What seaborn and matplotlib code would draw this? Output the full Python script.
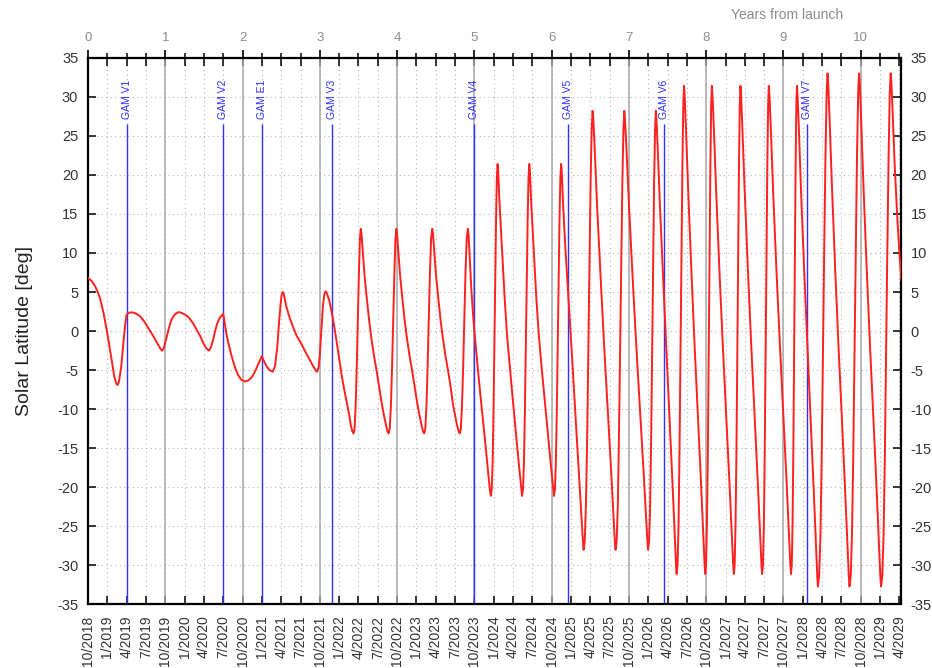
import numpy as np
import pandas as pd
import matplotlib
matplotlib.use("Agg")
from matplotlib import pyplot as plt
import seaborn as sns

# --- data (x in years from launch, y in deg) ---

# launch -> GAM V3
cruise_years = [
    0.00, 0.05, 0.10, 0.15, 0.20, 0.25, 0.30, 0.34, 0.37, 0.385, 0.40, 0.43, 0.46, 0.48, 0.50,
    0.53, 0.57, 0.62, 0.675, 0.73, 0.78, 0.83, 0.87, 0.91, 0.94, 0.96, 0.98, 1.02, 1.05, 1.08,
    1.12, 1.16, 1.19, 1.24, 1.30, 1.36, 1.405, 1.45, 1.49, 1.53, 1.565, 1.59, 1.62, 1.64, 1.67,
    1.705, 1.75,
    1.77, 1.79, 1.82, 1.86, 1.90, 1.94, 1.98, 2.03, 2.08, 2.12, 2.16, 2.20, 2.25,
    2.28, 2.31, 2.35, 2.39, 2.42, 2.45, 2.47, 2.49, 2.505, 2.52, 2.535, 2.565, 2.61, 2.65, 2.70,
    2.76, 2.81, 2.87, 2.92, 2.95, 2.965, 2.985, 3.00, 3.02, 3.04, 3.06, 3.075, 3.09, 3.12, 3.156,
]
cruise_lat = [
    6.8, 6.4, 5.6, 4.4, 2.4, -0.3, -3.3, -5.8, -6.8, -6.9, -6.5, -4.6, -1.3, 0.7, 2.1,
    2.35, 2.4, 2.25, 1.9, 1.2, 0.4, -0.4, -1.1, -1.8, -2.3, -2.5, -2.2, -0.7, 0.5, 1.45,
    2.1, 2.4, 2.4, 2.2, 1.8, 1.0, 0.2, -0.6, -1.5, -2.2, -2.5, -2.1, -1.1, -0.2, 0.9,
    1.7, 2.2,
    1.0, -0.3, -1.7, -3.25, -4.6, -5.6, -6.2, -6.45, -6.3, -5.9, -5.2, -4.3, -3.2,
    -3.9, -4.5, -5.0, -5.2, -4.5, -2.0, 0.8, 3.2, 4.6, 5.0, 4.7, 3.2, 1.7, 0.6, -0.6,
    -1.6, -2.6, -3.7, -4.6, -5.1, -5.2, -4.6, -3.0, 0.0, 3.2, 4.8, 5.1, 4.9, 4.0, 2.3,
]

# GAM V3 -> GAM V4
v3_years = [
    3.19, 3.22, 3.25, 3.285, 3.32, 3.35, 3.38, 3.40, 3.42, 3.436,
    3.45, 3.464, 3.478, 3.492, 3.506, 3.519, 3.53,
    3.54, 3.557, 3.58, 3.61, 3.64, 3.67, 3.70, 3.74, 3.77, 3.80, 3.83, 3.86, 3.875, 3.89,
    3.905, 3.92, 3.935, 3.95, 3.965, 3.978, 3.99,
    4.00, 4.017, 4.04, 4.07, 4.10, 4.13, 4.16, 4.20, 4.23, 4.26, 4.29, 4.32, 4.335, 4.35,
    4.365, 4.38, 4.395, 4.41, 4.425, 4.44, 4.455,
    4.465, 4.482, 4.505, 4.535, 4.565, 4.595, 4.625, 4.665, 4.695, 4.72, 4.75, 4.775, 4.795, 4.81,
    4.825, 4.84, 4.855, 4.87, 4.885, 4.90, 4.915,
    4.925, 4.94, 4.96, 4.98, 5.00,
]
v3_lat = [
    0.4, -1.5, -3.5, -5.8, -7.7, -9.2, -10.7, -12.0, -12.8, -13.1,
    -12.5, -9.5, -4.5, 1.5, 7.5, 11.8, 13.1,
    12.4, 10.0, 7.0, 4.0, 1.2, -1.1, -3.1, -5.4, -7.3, -9.2, -10.8, -12.2, -12.8, -13.1,
    -12.5, -9.5, -4.5, 1.5, 7.5, 11.8, 13.1,
    12.4, 10.0, 7.0, 4.0, 1.2, -1.1, -3.1, -5.4, -7.3, -9.2, -10.8, -12.2, -12.8, -13.1,
    -12.5, -9.5, -4.5, 1.5, 7.5, 11.8, 13.1,
    12.4, 10.0, 7.0, 4.0, 1.2, -1.1, -3.1, -5.4, -7.3, -9.2, -10.8, -12.0, -12.8, -13.1,
    -12.5, -9.5, -4.5, 1.5, 7.5, 11.8, 13.1,
    12.3, 9.5, 5.5, 2.5, 0.0,
]

# GAM V4 -> GAM V5
v4_years = [
    5.04, 5.075, 5.11, 5.148, 5.175, 5.195, 5.205, 5.213,
    5.224, 5.236, 5.247, 5.258, 5.27, 5.281, 5.291, 5.30,
    5.308, 5.325, 5.357, 5.39, 5.422, 5.455, 5.487, 5.52, 5.552, 5.575, 5.596, 5.61, 5.617,
    5.629, 5.641, 5.653, 5.665, 5.677, 5.69, 5.701, 5.71,
    5.718, 5.735, 5.767, 5.80, 5.833, 5.866, 5.899, 5.932, 5.964, 5.988, 6.009, 6.023, 6.03,
    6.042, 6.054, 6.066, 6.078, 6.09, 6.102, 6.113, 6.122,
    6.13, 6.147, 6.175, 6.203, 6.217,
]
v4_lat = [
    -4.3, -7.9, -11.3, -15.0, -17.8, -19.8, -20.7, -21.1,
    -20.3, -16.9, -10.6, -2.1, 6.4, 14.6, 19.7, 21.4,
    20.6, 16.5, 10.5, 4.5, -0.45, -4.2, -7.7, -11.2, -14.5, -17.0, -19.1, -20.6, -21.1,
    -20.3, -16.9, -10.6, -2.1, 6.4, 14.6, 19.7, 21.4,
    20.6, 16.5, 10.5, 4.5, -0.45, -4.2, -7.7, -11.2, -14.5, -17.0, -19.1, -20.6, -21.1,
    -20.3, -16.9, -10.6, -2.1, 6.4, 14.6, 19.7, 21.4,
    20.6, 16.5, 11.0, 6.5, 4.3,
]

# GAM V5 -> GAM V6
v5_years = [
    6.234, 6.265, 6.294, 6.323, 6.353, 6.375, 6.393, 6.407, 6.413,
    6.428, 6.443, 6.459, 6.474, 6.489, 6.504, 6.518, 6.53,
    6.539, 6.554, 6.589, 6.634, 6.678, 6.722, 6.767, 6.802, 6.817, 6.826,
    6.841, 6.856, 6.870, 6.885, 6.900, 6.915, 6.929, 6.94,
    6.949, 6.965, 7.002, 7.048, 7.094, 7.14, 7.186, 7.223, 7.239, 7.248,
    7.261, 7.274, 7.287, 7.30, 7.313, 7.326, 7.338, 7.348,
    7.356, 7.37, 7.402, 7.442, 7.457,
]
v5_lat = [
    1.5, -3.5, -8.5, -13.3, -18.3, -22.0, -25.0, -27.3, -28.0,
    -26.9, -22.4, -14.0, -2.8, 8.5, 19.2, 25.9, 28.2,
    27.1, 24.0, 15.8, 6.8, -1.7, -9.5, -17.4, -24.1, -26.9, -28.0,
    -26.9, -22.4, -14.0, -2.8, 8.5, 19.2, 25.9, 28.2,
    27.1, 24.0, 15.8, 6.8, -1.7, -9.5, -17.4, -24.1, -26.9, -28.0,
    -26.9, -22.4, -14.0, -2.8, 8.5, 19.2, 25.9, 28.2,
    27.1, 24.0, 15.8, 6.8, 3.5,
]

# GAM V6 -> GAM V7
v6_years = [
    7.482, 7.523, 7.563, 7.595, 7.609, 7.617,
    7.629, 7.642, 7.654, 7.667, 7.679, 7.692, 7.703, 7.713,
    7.721, 7.735, 7.768, 7.809, 7.85, 7.891, 7.932, 7.965, 7.979, 7.987,
    7.998, 8.009, 8.021, 8.032, 8.043, 8.054, 8.064, 8.073,
    8.082, 8.096, 8.13, 8.172, 8.215, 8.258, 8.30, 8.334, 8.349, 8.357,
    8.368, 8.379, 8.391, 8.402, 8.413, 8.424, 8.434, 8.443,
    8.451, 8.465, 8.499, 8.541, 8.583, 8.625, 8.667, 8.701, 8.715, 8.723,
    8.734, 8.746, 8.757, 8.768, 8.78, 8.791, 8.801, 8.81,
    8.819, 8.833, 8.867, 8.91, 8.954, 8.997, 9.04, 9.074, 9.088, 9.097,
    9.107, 9.117, 9.127, 9.137, 9.147, 9.157, 9.166, 9.174,
    9.182, 9.196, 9.228, 9.269, 9.31,
]
v6_lat = [
    -1.9, -10.6, -19.3, -26.7, -29.9, -31.1,
    -29.9, -24.9, -15.6, -3.1, 9.4, 21.4, 28.9, 31.4,
    30.1, 26.7, 17.6, 7.5, -1.9, -10.6, -19.3, -26.7, -29.9, -31.1,
    -29.9, -24.9, -15.6, -3.1, 9.4, 21.4, 28.9, 31.4,
    30.1, 26.7, 17.6, 7.5, -1.9, -10.6, -19.3, -26.7, -29.9, -31.1,
    -29.9, -24.9, -15.6, -3.1, 9.4, 21.4, 28.9, 31.4,
    30.1, 26.7, 17.6, 7.5, -1.9, -10.6, -19.3, -26.7, -29.9, -31.1,
    -29.9, -24.9, -15.6, -3.1, 9.4, 21.4, 28.9, 31.4,
    30.1, 26.7, 17.6, 7.5, -1.9, -10.6, -19.3, -26.7, -29.9, -31.1,
    -29.9, -24.9, -15.6, -3.1, 9.4, 21.4, 28.9, 31.4,
    30.1, 26.7, 17.6, 7.5, -2.0,
]

# GAM V7 -> end of plot
v7_years = [
    9.35, 9.391, 9.423, 9.437, 9.445,
    9.461, 9.478, 9.494, 9.51, 9.526, 9.543, 9.558, 9.57,
    9.579, 9.593, 9.627, 9.669, 9.712, 9.755, 9.797, 9.831, 9.845, 9.854,
    9.87, 9.886, 9.902, 9.918, 9.935, 9.951, 9.966, 9.978,
    9.987, 10.001, 10.035, 10.077, 10.12, 10.163, 10.205, 10.239, 10.253, 10.262,
    10.278, 10.295, 10.311, 10.327, 10.343, 10.36, 10.375, 10.387,
    10.396, 10.41, 10.44, 10.47, 10.50, 10.525,
]
v7_lat = [
    -11.1, -20.3, -28.1, -31.4, -32.7,
    -31.4, -26.2, -16.4, -3.3, 9.9, 22.4, 30.4, 33.0,
    31.7, 28.1, 18.5, 7.9, -2.0, -11.1, -20.3, -28.1, -31.4, -32.7,
    -31.4, -26.2, -16.4, -3.3, 9.9, 22.4, 30.4, 33.0,
    31.7, 28.1, 18.5, 7.9, -2.0, -11.1, -20.3, -28.1, -31.4, -32.7,
    -31.4, -26.2, -16.4, -3.3, 9.9, 22.4, 30.4, 33.0,
    31.8, 28.5, 21.0, 15.0, 10.0, 6.5,
]

gam_names = ["GAM V1", "GAM V2", "GAM E1", "GAM V3", "GAM V4", "GAM V5", "GAM V6", "GAM V7"]
gam_years = [0.505, 1.75, 2.255, 3.156, 5.0, 6.217, 7.457, 9.31]

year_ticks = list(range(0, 11))
date_labels = [
    "10/2018",
    "1/2019", "4/2019", "7/2019", "10/2019",
    "1/2020", "4/2020", "7/2020", "10/2020",
    "1/2021", "4/2021", "7/2021", "10/2021",
    "1/2022", "4/2022", "7/2022", "10/2022",
    "1/2023", "4/2023", "7/2023", "10/2023",
    "1/2024", "4/2024", "7/2024", "10/2024",
    "1/2025", "4/2025", "7/2025", "10/2025",
    "1/2026", "4/2026", "7/2026", "10/2026",
    "1/2027", "4/2027", "7/2027", "10/2027",
    "1/2028", "4/2028", "7/2028", "10/2028",
    "1/2029", "4/2029",
]
lat_ticks = [-35, -30, -25, -20, -15, -10, -5, 0, 5, 10, 15, 20, 25, 30, 35]

track = pd.DataFrame({
    "years": cruise_years + v3_years + v4_years + v5_years + v6_years + v7_years,
    "lat": cruise_lat + v3_lat + v4_lat + v5_lat + v6_lat + v7_lat,
})
quarters = np.arange(len(date_labels)) * 0.25

sns.set_theme(style="white")
plt.rcParams["font.family"] = ["Liberation Sans", "DejaVu Sans"]
plt.rcParams["axes.unicode_minus"] = False

fig = plt.figure(figsize=(9.32, 6.68), dpi=100)
ax = fig.add_axes([0.0944, 0.0951, 0.8723, 0.8185])
top = ax.twiny()

# integer-year guide lines and gravity assist markers
ax.vlines(year_ticks[1:], -35, 35, color="#a8a8a8", lw=1.1, zorder=1)
ax.vlines(gam_years, -35, 26.5, color="#3030ff", lw=1.0, zorder=2)
for t, name in zip(gam_years, gam_names):
    ax.text(t, 27.2, name, rotation=90, ha="center", va="bottom",
            color="#3030ff", fontsize=7.5, zorder=4)

sns.lineplot(data=track, x="years", y="lat", sort=False, estimator=None,
             color="#ff2020", lw=1.4, ax=ax, zorder=3)

ax.set_xlim(0, 10.52)
ax.set_ylim(-35, 35)
ax.set_xticks(quarters)
ax.set_xticklabels(date_labels)
ax.set_yticks(lat_ticks)
ax.set_xlabel("")
ax.set_ylabel("")
ax.grid(True, linestyle=(0, (1, 3)), color="#b5b5b5", lw=0.8)
ax.set_axisbelow(True)

ax.tick_params(axis="x", direction="in", length=5.5, width=1.1, pad=8,
               labelsize=10, labelrotation=90, bottom=True, top=True,
               labelcolor="#333333", color="black")
ax.tick_params(axis="y", direction="in", length=6, width=1.1, pad=7,
               labelsize=10.5, left=True, right=True, labelleft=True,
               labelright=True, labelcolor="#333333", color="black")
for s in ax.spines.values():
    s.set_color("black")
    s.set_linewidth(1.6)

top.set_xlim(ax.get_xlim())
top.set_xticks(year_ticks)
top.set_xticks(quarters, minor=True)
top.tick_params(axis="x", which="major", direction="out", length=6, width=1.2,
                pad=4, labelsize=9.5, labelcolor="#8c8c8c", color="black")
top.tick_params(axis="x", which="minor", direction="out", length=3.5, width=1.1,
                color="black")
top.grid(False)
for s in top.spines.values():
    s.set_visible(False)

fig.text(787 / 932, 1 - 15 / 668, "Years from launch", ha="center", va="center",
         fontsize=10, color="#8c8c8c")
fig.text(25 / 932, 1 - 331 / 668, "Solar Latitude [deg]", ha="center", va="center",
         rotation=90, fontsize=14, color="#222222")

fig.savefig("out.png", dpi=100)
